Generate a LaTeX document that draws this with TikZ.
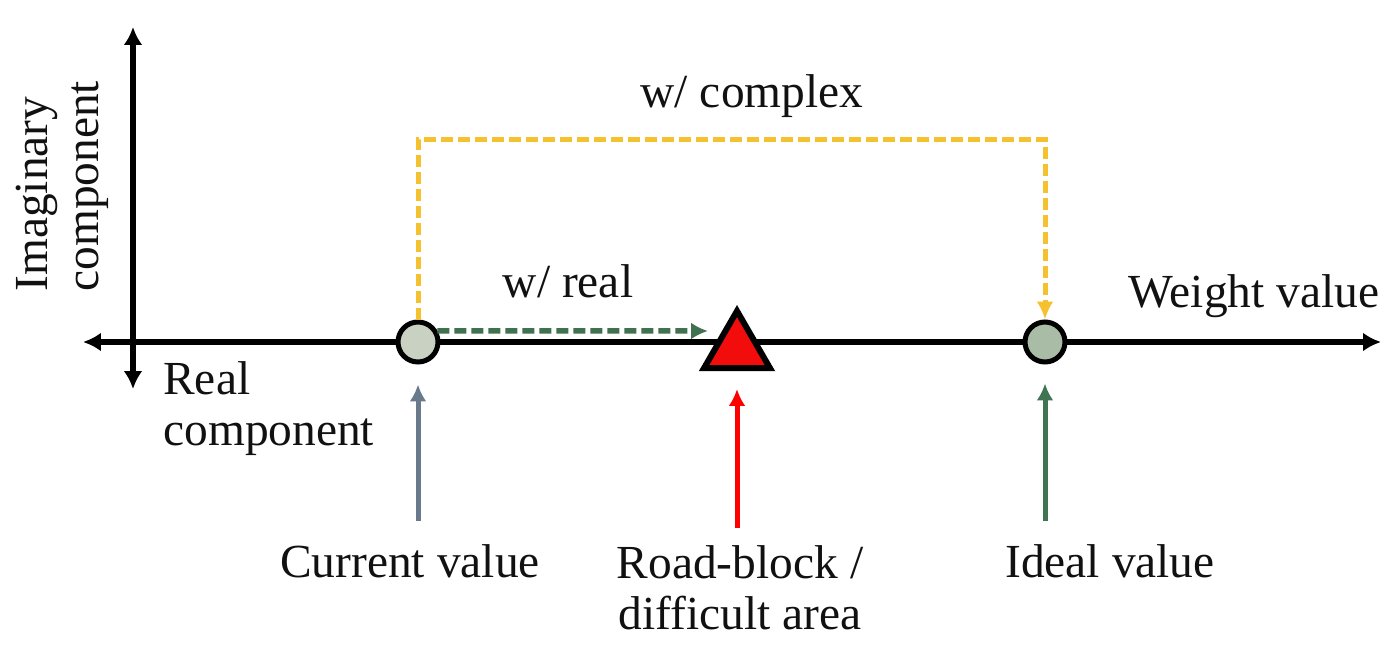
\documentclass[tikz,border=0pt]{standalone}
\usepackage{fontspec}
\setmainfont{Liberation Serif}
\usepackage{tikz}
\usetikzlibrary{shapes.geometric, arrows.meta}
\definecolor{curfill}{HTML}{C9D1C3}
\definecolor{idealfill}{HTML}{A9BCA5}
\definecolor{blockred}{HTML}{F20C0C}
\definecolor{complexyellow}{HTML}{F5C12E}
\definecolor{realgreen}{HTML}{41724F}
\definecolor{curgrey}{HTML}{687A8B}
\definecolor{idealgreen}{HTML}{3F7552}
\definecolor{txtcol}{HTML}{111111}
\tikzstyle{axis} = [line width=0.11cm, arrows={Latex[length=0.36cm, width=0.38cm]-Latex[length=0.36cm, width=0.38cm]}]
\tikzstyle{value} = [circle, draw=black, line width=0.1cm, minimum size=0.8cm, inner sep=0pt]
\tikzstyle{curvalue} = [value, fill=curfill]
\tikzstyle{idealvalue} = [value, fill=idealfill]
\tikzstyle{roadblock} = [regular polygon, regular polygon sides=3, draw=black,
    fill=blockred, line width=0.12cm, minimum size=1.52cm, inner sep=0pt]
\tikzstyle{txt} = [font=\fontsize{27}{29}\selectfont, text=txtcol, inner sep=0pt]
\tikzstyle{stepdash} = [dash pattern=on 0.24cm off 0.1cm]
\tikzstyle{realpath} = [stepdash, line width=0.11cm, draw=realgreen, -{Latex[length=0.34cm, width=0.34cm]}]
\tikzstyle{complexpath} = [stepdash, line width=0.1cm, draw=complexyellow, -{Latex[length=0.36cm, width=0.34cm]}]
\tikzstyle{pointer} = [line width=0.1cm, -{Latex[length=0.34cm, width=0.34cm]}]

\begin{document}
\begin{tikzpicture}[x=0.02cm, y=-0.02cm]
    \useasboundingbox (0,0) rectangle (1400,656);
    % Axes
    \coordinate (xleft) at (83,342);
    \coordinate (xright) at (1381,342);
    \coordinate (ybottom) at (133,389);
    \coordinate (ytop) at (133,27);
    \draw[axis] (xleft) -- (xright);
    \draw[axis] (ybottom) -- (ytop);
    % Values
    \node[curvalue] (cur) at (418,342) {};
    \node[roadblock] (block) at (737,349) {};
    \node[idealvalue] (ideal) at (1045,342) {};
    % Labels
    \node[txt, anchor=base] (complextxt) at (752,107) {w/ complex};
    \node[txt, anchor=base] (realtxt) at (568,297) {w/ real};
    \node[txt, anchor=base] (weighttxt) at (1254,307) {Weight value};
    \node[txt, anchor=north west, align=left] (realaxtxt) at (163,361) {Real\\component};
    \node[txt, anchor=north west, align=left, rotate=90] (imagtxt) at (15.5,292) {Imaginary\\component};
    \node[txt, anchor=base] (curtxt) at (410,577) {Current value};
    \node[txt, anchor=north, align=center] (blocktxt) at (740,545.5) {Road-block /\\difficult area};
    \node[txt, anchor=base] (idealtxt) at (1110,577) {Ideal value};
    % Paths
    \coordinate (bend) at (418,139);
    \coordinate (realend) at (708,331);
    \draw[complexpath] (cur.north) -- (bend) -| (ideal.north);
    \draw[realpath] (cur.30) -- (realend);
    % Pointers
    \draw[pointer, draw=curgrey, shorten <=0.45cm, shorten >=0.4cm] (cur |- curtxt.north) -- (cur.south);
    \draw[pointer, draw=red, shorten <=0.35cm, shorten >=0.36cm] (block |- blocktxt.north) -- (block.south);
    \draw[pointer, draw=idealgreen, shorten <=0.45cm, shorten >=0.38cm] (ideal |- idealtxt.north) -- (ideal.south);
\end{tikzpicture}
\end{document}
